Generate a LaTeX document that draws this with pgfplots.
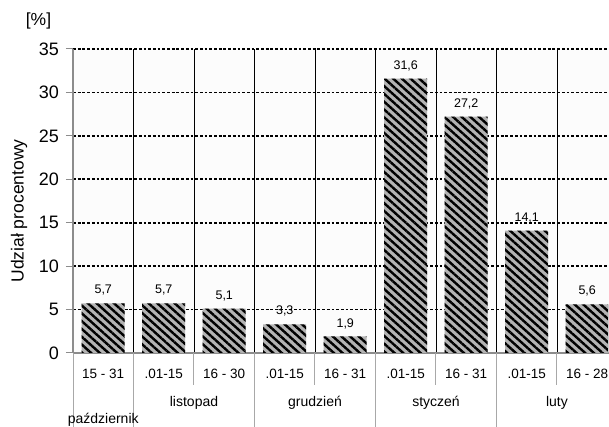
\documentclass[border=0pt]{standalone}
\usepackage{pgfplots}
\pgfplotsset{compat=1.18}
\usetikzlibrary{patterns.meta}
\usepackage{fontspec}
\setmainfont{Liberation Sans}

\definecolor{barfill}{HTML}{B3B3B3}
\definecolor{axisgray}{HTML}{8C8C8C}
\definecolor{sepgray}{HTML}{A8A8A8}

\begin{document}
\begin{tikzpicture}
\begin{axis}[
  name=ax,
  scale only axis,
  width=536pt, height=304pt,
  xmin=-0.5, xmax=8.36,
  ymin=0, ymax=35,
  ytick={0,5,...,35},
  xtick={0,...,8},
  xticklabels={15 - 31,.01-15,16 - 30,.01-15,16 - 31,.01-15,16 - 31,.01-15,16 - 28},
  axis x line*=bottom, axis y line*=left,
  axis line style={axisgray, line width=1.4pt},
  tick align=outside,
  major tick length=7pt,
  ytick style={axisgray, line width=1pt},
  xtick style={draw=none},
  minor xtick={0.5,1.5,...,7.5},
  minor tick length=0pt,
  xminorgrids,
  minor grid style={black, line width=0.8pt},
  ymajorgrids,
  major grid style={black, line width=1.6pt, dash pattern=on 2.8pt off 1.9pt},
  axis background/.style={fill=black!1},
  /pgf/number format/assume math mode=true,
  yticklabel style={font=\fontsize{18}{20}\selectfont, anchor=east, inner sep=0pt, xshift=-7pt},
  xticklabel style={font=\fontsize{13.5}{15}\selectfont, anchor=center, yshift=-14pt},
  ylabel={Udział procentowy},
  every axis y label/.style={at={([shift={(-54pt,-10pt)}]axis description cs:0,0.5)},
    rotate=90, anchor=center, font=\fontsize{17.5}{19}\selectfont},
  clip=false,
]
% Share of each half-month period
\addplot[ybar, bar width=43pt, fill=barfill, draw=none,
  postaction={pattern={Lines[angle=-42,distance=5.8pt,line width=2.4pt]}, pattern color=black},
  nodes near coords={\pgfmathprintnumber[fixed, fixed zerofill, precision=1, use comma]{\pgfplotspointmeta}},
  every node near coord/.append style={font=\fontsize{12.5}{14}\selectfont, anchor=center, yshift=13pt},
] coordinates {
  (0,5.7) (1,5.7) (2,5.1) (3,3.3) (4,1.9) (5,31.6) (6,27.2) (7,14.1) (8,5.6)
};

% Separators in the category label area (month borders long, half-month borders short)
\draw[sepgray, line width=1pt] (axis cs:-0.5,0) -- ([yshift=-74pt]axis cs:-0.5,0);
\draw[sepgray, line width=1pt] (axis cs:0.5,0) -- ([yshift=-74pt]axis cs:0.5,0);
\draw[sepgray, line width=1pt] (axis cs:2.5,0) -- ([yshift=-74pt]axis cs:2.5,0);
\draw[sepgray, line width=1pt] (axis cs:4.5,0) -- ([yshift=-74pt]axis cs:4.5,0);
\draw[sepgray, line width=1pt] (axis cs:6.5,0) -- ([yshift=-74pt]axis cs:6.5,0);
\draw[sepgray, line width=1pt] (axis cs:1.5,0) -- ([yshift=-32pt]axis cs:1.5,0);
\draw[sepgray, line width=1pt] (axis cs:3.5,0) -- ([yshift=-32pt]axis cs:3.5,0);
\draw[sepgray, line width=1pt] (axis cs:5.5,0) -- ([yshift=-32pt]axis cs:5.5,0);
\draw[sepgray, line width=1pt] (axis cs:7.5,0) -- ([yshift=-32pt]axis cs:7.5,0);

% Month names
\node[font=\fontsize{14}{16}\selectfont] at ([yshift=-50pt]axis cs:1.5,0) {listopad};
\node[font=\fontsize{14}{16}\selectfont] at ([yshift=-50pt]axis cs:3.5,0) {grudzień};
\node[font=\fontsize{14}{16}\selectfont] at ([yshift=-50pt]axis cs:5.5,0) {styczeń};
\node[font=\fontsize{14}{16}\selectfont] at ([yshift=-50pt]axis cs:7.5,0) {luty};
\node[font=\fontsize{14}{16}\selectfont] at ([yshift=-67pt]axis cs:0,0) {październik};

\node[font=\fontsize{17.5}{19}\selectfont] at ([shift={(-34.5pt,28pt)}]rel axis cs:0,1) {[\%]};

\coordinate (bbA) at ([shift={(-73pt,-74pt)}]rel axis cs:0,0);
\coordinate (bbB) at ([shift={(0pt,49pt)}]rel axis cs:1,1);
\end{axis}
\pgfresetboundingbox
\path[use as bounding box] (bbA) rectangle (bbB);
\end{tikzpicture}
\end{document}
